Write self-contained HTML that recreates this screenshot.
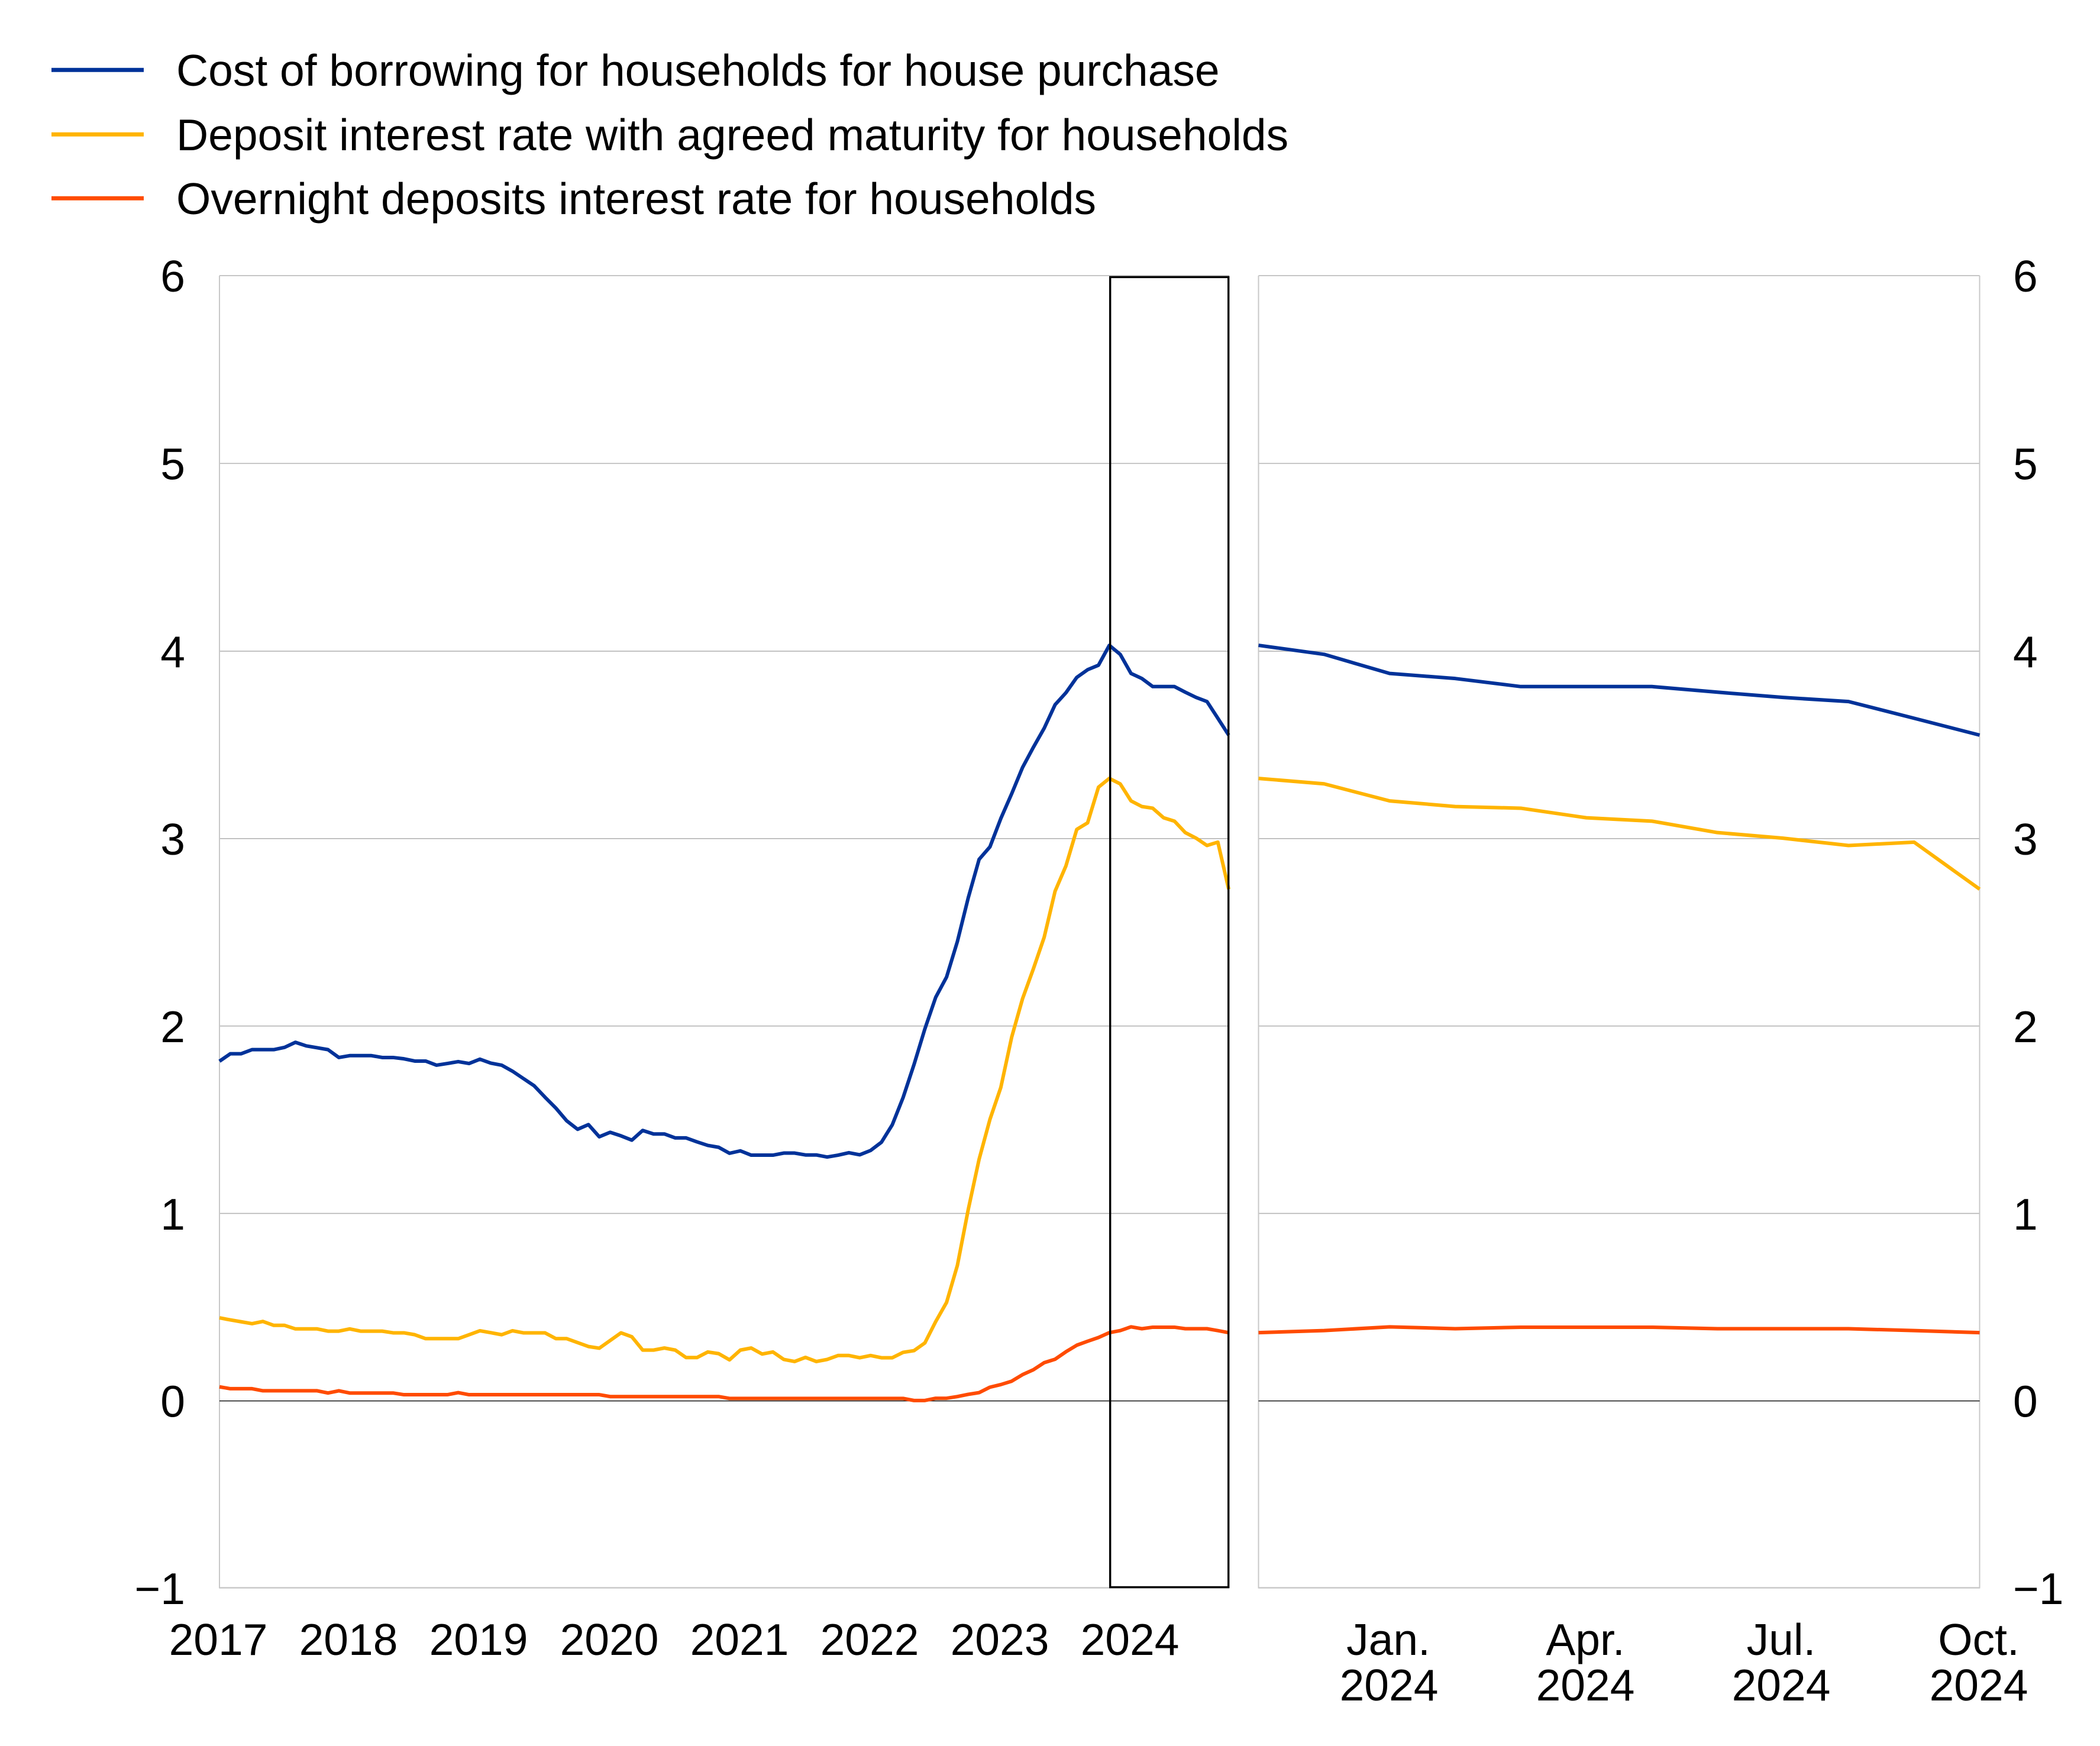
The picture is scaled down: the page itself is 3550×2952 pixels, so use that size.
<!DOCTYPE html>
<html>
<head>
<meta charset="utf-8">
<style>
html,body{margin:0;padding:0;background:#fff;}
svg{display:block;}
text{font-family:"Liberation Sans",Arial,sans-serif;font-size:75px;fill:#000;}
</style>
</head>
<body>
<svg width="3550" height="2952" viewBox="0 0 3550 2952" xmlns="http://www.w3.org/2000/svg">
<rect width="3550" height="2952" fill="#fff"/>

<!-- Legend -->
<line x1="87" y1="118.3" x2="243" y2="118.3" stroke="#003299" stroke-width="7"/>
<line x1="87" y1="227.3" x2="243" y2="227.3" stroke="#ffb400" stroke-width="7"/>
<line x1="87" y1="335.3" x2="243" y2="335.3" stroke="#ff4b00" stroke-width="7"/>
<text x="298" y="145">Cost of borrowing for households for house purchase</text>
<text x="298" y="254">Deposit interest rate with agreed maturity for households</text>
<text x="298" y="362">Overnight deposits interest rate for households</text>

<!-- Left panel grid -->
<g stroke="#b4b4b4" stroke-width="1.6">
<line x1="371" y1="466" x2="2078" y2="466"/>
<line x1="371" y1="783.5" x2="2078" y2="783.5"/>
<line x1="371" y1="1100.9" x2="2078" y2="1100.9"/>
<line x1="371" y1="1417.8" x2="2078" y2="1417.8"/>
<line x1="371" y1="1734.7" x2="2078" y2="1734.7"/>
<line x1="371" y1="2051.6" x2="2078" y2="2051.6"/>
</g>
<line x1="371" y1="2684.5" x2="2078" y2="2684.5" stroke="#c8c8c8" stroke-width="2.5"/>
<line x1="371" y1="466" x2="371" y2="2685.5" stroke="#c8c8c8" stroke-width="2"/>
<line x1="371" y1="2368.6" x2="2078" y2="2368.6" stroke="#000" stroke-width="1.4"/>

<!-- Right panel grid -->
<g stroke="#b4b4b4" stroke-width="1.6">
<line x1="2127.5" y1="466" x2="3346.5" y2="466"/>
<line x1="2127.5" y1="783.5" x2="3346.5" y2="783.5"/>
<line x1="2127.5" y1="1100.9" x2="3346.5" y2="1100.9"/>
<line x1="2127.5" y1="1417.8" x2="3346.5" y2="1417.8"/>
<line x1="2127.5" y1="1734.7" x2="3346.5" y2="1734.7"/>
<line x1="2127.5" y1="2051.6" x2="3346.5" y2="2051.6"/>
</g>
<line x1="2127.5" y1="2684.5" x2="3346.5" y2="2684.5" stroke="#c8c8c8" stroke-width="2.5"/>
<line x1="2127.5" y1="466" x2="2127.5" y2="2685.5" stroke="#c8c8c8" stroke-width="2"/>
<line x1="3346.5" y1="466" x2="3346.5" y2="2685.5" stroke="#c8c8c8" stroke-width="2"/>
<line x1="2127.5" y1="2368.6" x2="3346.5" y2="2368.6" stroke="#000" stroke-width="1.4"/>

<!-- Left panel series -->
<g transform="translate(371,2368.5) scale(18.345,-316.9)" fill="none" stroke-linejoin="round" stroke-linecap="butt">
<polyline vector-effect="non-scaling-stroke" stroke="#ff4b00" stroke-width="6" points="0,0.075 1,0.065 2,0.065 3,0.065 4,0.054 5,0.054 6,0.054 7,0.054 8,0.054 9,0.054 10,0.042 11,0.054 12,0.042 13,0.042 14,0.042 15,0.042 16,0.042 17,0.033 18,0.033 19,0.033 20,0.033 21,0.033 22,0.044 23,0.033 24,0.033 25,0.033 26,0.033 27,0.033 28,0.033 29,0.033 30,0.033 31,0.033 32,0.033 33,0.033 34,0.033 35,0.033 36,0.023 37,0.023 38,0.023 39,0.023 40,0.023 41,0.023 42,0.023 43,0.023 44,0.023 45,0.023 46,0.023 47,0.013 48,0.013 49,0.013 50,0.013 51,0.013 52,0.013 53,0.013 54,0.013 55,0.013 56,0.013 57,0.013 58,0.013 59,0.013 60,0.013 61,0.013 62,0.013 63,0.013 64,0.002 65,0.002 66,0.014 67,0.014 68,0.023 69,0.035 70,0.044 71,0.073 72,0.087 73,0.105 74,0.140 75,0.166 76,0.204 77,0.222 78,0.262 79,0.297 80,0.318 81,0.338 82,0.364 83,0.375 84,0.395 85,0.385 86,0.393 87,0.393 88,0.393 89,0.385 90,0.385 91,0.385 92,0.375 93,0.364"/>
<polyline vector-effect="non-scaling-stroke" stroke="#ffb400" stroke-width="6" points="0,0.443 1,0.432 2,0.422 3,0.412 4,0.424 5,0.403 6,0.403 7,0.384 8,0.384 9,0.384 10,0.372 11,0.372 12,0.384 13,0.372 14,0.372 15,0.372 16,0.363 17,0.363 18,0.353 19,0.332 20,0.332 21,0.332 22,0.332 23,0.353 24,0.374 25,0.364 26,0.353 27,0.374 28,0.363 29,0.363 30,0.363 31,0.332 32,0.332 33,0.311 34,0.290 35,0.281 36,0.322 37,0.363 38,0.342 39,0.271 40,0.271 41,0.282 42,0.271 43,0.231 44,0.231 45,0.261 46,0.252 47,0.219 48,0.271 49,0.282 50,0.250 51,0.261 52,0.221 53,0.210 54,0.232 55,0.210 56,0.221 57,0.242 58,0.242 59,0.230 60,0.242 61,0.230 62,0.230 63,0.259 64,0.268 65,0.309 66,0.423 67,0.525 68,0.723 69,1.021 70,1.289 71,1.502 72,1.672 73,1.940 74,2.145 75,2.305 76,2.474 77,2.719 78,2.854 79,3.049 80,3.084 81,3.274 82,3.321 83,3.292 84,3.201 85,3.171 86,3.162 87,3.111 88,3.093 89,3.032 90,3.002 91,2.963 92,2.981 93,2.730"/>
<polyline vector-effect="non-scaling-stroke" stroke="#003299" stroke-width="6" points="0,1.812 1,1.852 2,1.852 3,1.874 4,1.874 5,1.874 6,1.886 7,1.913 8,1.894 9,1.884 10,1.874 11,1.832 12,1.842 13,1.842 14,1.842 15,1.832 16,1.832 17,1.825 18,1.813 19,1.813 20,1.791 21,1.800 22,1.810 23,1.800 24,1.823 25,1.802 26,1.791 27,1.759 28,1.720 29,1.681 30,1.620 31,1.562 32,1.494 33,1.449 34,1.474 35,1.409 36,1.433 37,1.414 38,1.391 39,1.443 40,1.424 41,1.424 42,1.403 43,1.403 44,1.382 45,1.363 46,1.353 47,1.321 48,1.334 49,1.311 50,1.311 51,1.311 52,1.322 53,1.322 54,1.312 55,1.312 56,1.301 57,1.311 58,1.324 59,1.313 60,1.336 61,1.380 62,1.473 63,1.619 64,1.794 65,1.984 66,2.153 67,2.261 68,2.451 69,2.684 70,2.889 71,2.956 72,3.107 73,3.239 74,3.379 75,3.487 76,3.589 77,3.714 78,3.778 79,3.860 80,3.901 81,3.925 82,4.031 83,3.983 84,3.881 85,3.854 86,3.811 87,3.811 88,3.811 89,3.781 90,3.753 91,3.731 92,3.642 93,3.552"/>
</g>

<!-- Right panel series -->
<g transform="translate(2127.5,2368.5) scale(110.82,-316.9)" fill="none" stroke-linejoin="round" stroke-linecap="butt">
<polyline vector-effect="non-scaling-stroke" stroke="#ff4b00" stroke-width="6" points="0,0.364 1,0.375 2,0.395 3,0.385 4,0.393 5,0.393 6,0.393 7,0.385 8,0.385 9,0.385 10,0.375 11,0.364"/>
<polyline vector-effect="non-scaling-stroke" stroke="#ffb400" stroke-width="6" points="0,3.321 1,3.292 2,3.201 3,3.171 4,3.162 5,3.111 6,3.093 7,3.032 8,3.002 9,2.963 10,2.981 11,2.730"/>
<polyline vector-effect="non-scaling-stroke" stroke="#003299" stroke-width="6" points="0,4.031 1,3.983 2,3.881 3,3.854 4,3.811 5,3.811 6,3.811 7,3.781 8,3.753 9,3.731 10,3.642 11,3.552"/>
</g>

<!-- Highlight box -->
<rect x="1876.7" y="468.5" width="200" height="2215" fill="none" stroke="#000" stroke-width="3.4"/>

<!-- Left Y labels -->
<g text-anchor="end">
<text x="313" y="493">6</text>
<text x="313" y="810.5">5</text>
<text x="313" y="1128">4</text>
<text x="313" y="1445">3</text>
<text x="313" y="1762">2</text>
<text x="313" y="2079">1</text>
<text x="313" y="2395.5">0</text>
<text x="313" y="2712">−1</text>
</g>

<!-- Right Y labels -->
<g text-anchor="start">
<text x="3403" y="493">6</text>
<text x="3403" y="810.5">5</text>
<text x="3403" y="1128">4</text>
<text x="3403" y="1445">3</text>
<text x="3403" y="1762">2</text>
<text x="3403" y="2079">1</text>
<text x="3403" y="2395.5">0</text>
<text x="3403" y="2712">−1</text>
</g>

<!-- Left X labels -->
<g text-anchor="middle">
<text x="369" y="2798">2017</text>
<text x="589" y="2798">2018</text>
<text x="809" y="2798">2019</text>
<text x="1030" y="2798">2020</text>
<text x="1250" y="2798">2021</text>
<text x="1470" y="2798">2022</text>
<text x="1690" y="2798">2023</text>
<text x="1910" y="2798">2024</text>
</g>

<!-- Right X labels -->
<g text-anchor="middle">
<text x="2347" y="2798">Jan.</text>
<text x="2348" y="2875">2024</text>
<text x="2680" y="2798">Apr.</text>
<text x="2680" y="2875">2024</text>
<text x="3011" y="2798">Jul.</text>
<text x="3011" y="2875">2024</text>
<text x="3345" y="2798">Oct.</text>
<text x="3345" y="2875">2024</text>
</g>
</svg>
</body>
</html>
